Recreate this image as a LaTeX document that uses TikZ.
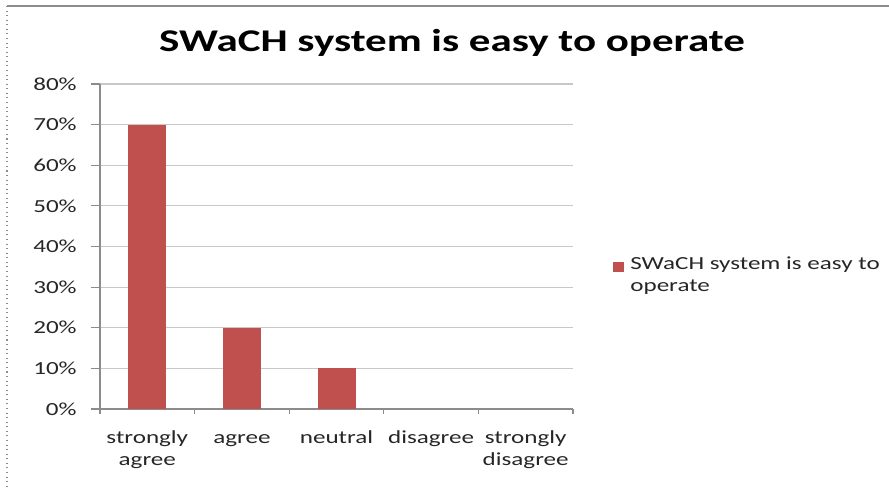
\documentclass[tikz,border=0pt]{standalone}
\usepackage{fontspec}
\setmainfont{Carlito}[FakeStretch=1.36]
\usetikzlibrary{positioning}
\definecolor{barred}{HTML}{C0504D}
\definecolor{gridgray}{HTML}{C8C8C8}
\definecolor{axisgray}{HTML}{8C8C8C}
\tikzstyle{ticklabel}=[anchor=east,inner sep=0pt,font=\fontsize{10.5}{12}\selectfont,text=black!85]
\tikzstyle{catlabel}=[align=center,inner sep=0pt,font=\fontsize{10.5}{12.6}\selectfont,text=black!85,anchor=north]
\tikzstyle{bar}=[fill=barred]

\begin{document}
\begin{tikzpicture}[x=0.02cm,y=-0.02cm]
\def \xo {100};
\def \yo {409};
\def \gstep {40.625};
\def \cw {94.6};
\def \bw {38};

\useasboundingbox (0,0) rectangle (889,488);
\draw[axisgray,line width=0.6pt] (7,6) -- (889,6);
\draw[axisgray,line width=0.6pt,dotted] (7,6) -- (7,488);

\node[font=\bfseries\fontsize{18}{20}\selectfont] (title) at (452,43) {SWaCH system is easy to operate};

% grid and y ticks
\foreach \i in {1,...,8} {
	\draw[gridgray,line width=0.6pt] (\xo,\yo-\i*\gstep) -- (573,\yo-\i*\gstep);
};
\foreach \i in {0,...,8} {
	\draw[axisgray,line width=0.6pt] (\xo-9,\yo-\i*\gstep) -- (\xo,\yo-\i*\gstep);
	\pgfmathtruncatemacro{\pc}{\i*10}
	\node[ticklabel] (y\i) at (77,\yo-\i*\gstep) {\pc\%};
};
\draw[axisgray,line width=0.6pt] (\xo,\yo-8*\gstep) -- (\xo,\yo) -- (573,\yo);
\foreach \j in {0,...,5} {
	\draw[axisgray,line width=0.6pt] (\xo+\j*\cw,\yo) -- (\xo+\j*\cw,\yo+5);
};

% bars
\fill[bar] (\xo+0.5*\cw-\bw/2,\yo) rectangle (\xo+0.5*\cw+\bw/2,\yo-7*\gstep);
\fill[bar] (\xo+1.5*\cw-\bw/2,\yo) rectangle (\xo+1.5*\cw+\bw/2,\yo-2*\gstep);
\fill[bar] (\xo+2.5*\cw-\bw/2,\yo) rectangle (\xo+2.5*\cw+\bw/2,\yo-1*\gstep);

% category labels
\node[catlabel] (c1) at (\xo+0.5*\cw,428) {\strut strongly\\agree};
\node[catlabel] (c2) at (\xo+1.5*\cw,428) {\strut agree};
\node[catlabel] (c3) at (\xo+2.5*\cw,428) {\strut neutral};
\node[catlabel] (c4) at (\xo+3.5*\cw,428) {\strut disagree};
\node[catlabel] (c5) at (\xo+4.5*\cw,428) {\strut strongly\\disagree};

% legend
\fill[bar] (613,262) rectangle (624,272);
\node[catlabel,align=left,anchor=north west] (leg) at (630,256) {SWaCH system is easy to\\operate};

\end{tikzpicture}
\end{document}
